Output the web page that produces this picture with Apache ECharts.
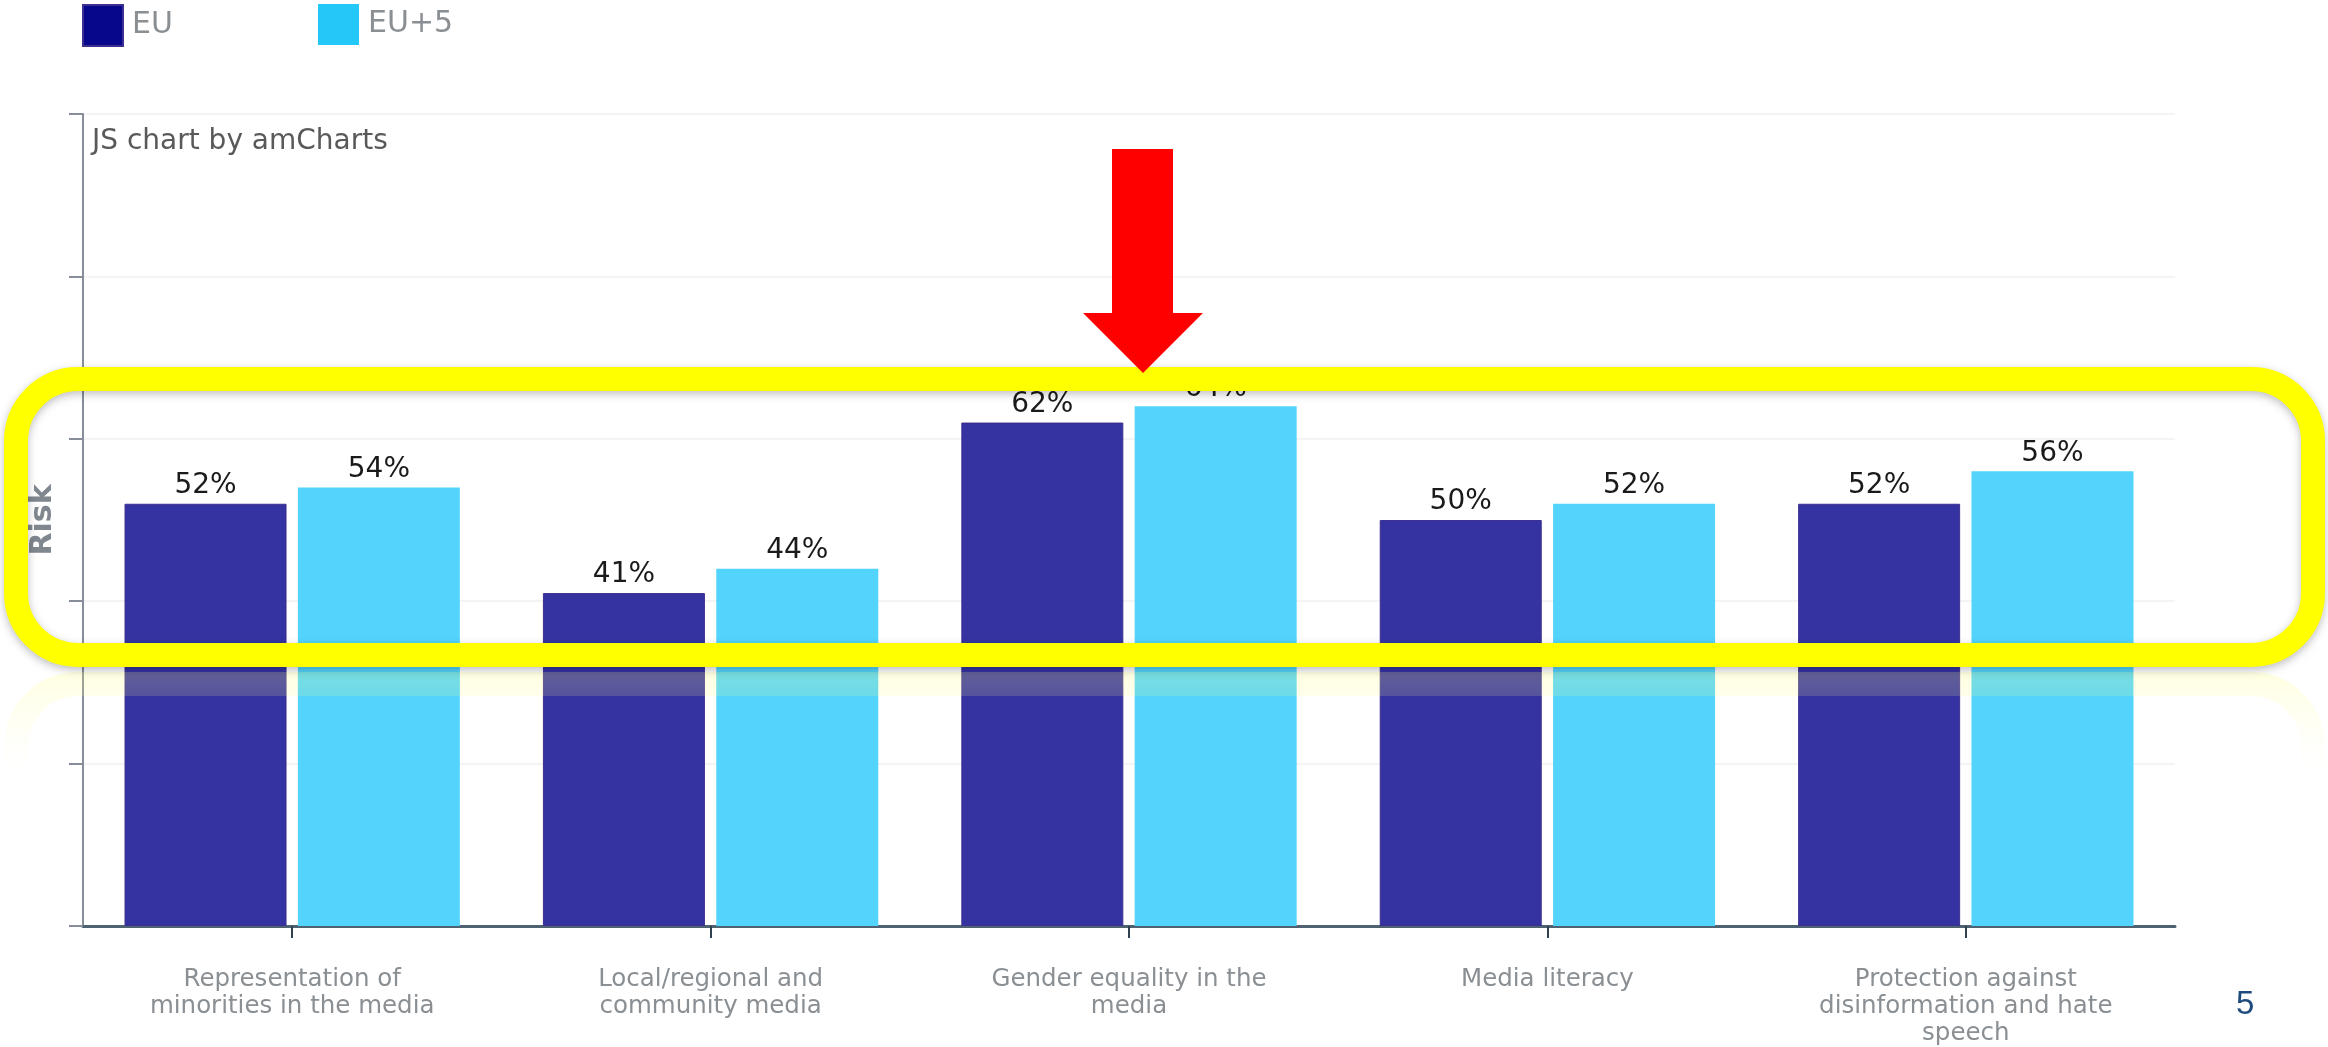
<!DOCTYPE html>
<html>
<head>
<meta charset="utf-8">
<script src="https://cdn.jsdelivr.net/npm/echarts@6/dist/echarts.min.js"></script>
<style>
html,body{margin:0;padding:0;background:#fff;}
#chart{width:2328px;height:1047px;}
</style>
</head>
<body>
<div id="chart"></div>
<script>
var categories = [
  "Representation of\nminorities in the media",
  "Local/regional and\ncommunity media",
  "Gender equality in the\nmedia",
  "Media literacy",
  "Protection against\ndisinformation and hate\nspeech"
];
var seriesNames = ["EU", "EU+5"];
var euValues = [52, 41, 62, 50, 52];
var eu5Values = [54, 44, 64, 52, 56];
var highRiskThreshold = 66;

var verdanaLike = "'DejaVu Sans', Verdana, sans-serif";

var chart = echarts.init(document.getElementById('chart'), null, {renderer: 'canvas'});

var labelCfg = {
  show: true,
  position: 'top',
  distance: 4,
  formatter: '{c}%',
  fontSize: 28,
  fontFamily: verdanaLike,
  color: '#1a1a1a'
};

var legendText = {fontSize: 30, color: '#8a8f94', fontFamily: verdanaLike, padding: [5, 0, 0, 4]};

var option = {
  backgroundColor: '#ffffff',
  animation: false,
  title: {
    text: 'JS chart by amCharts',
    left: 92,
    top: 128,
    padding: 0,
    textStyle: {fontSize: 28, fontWeight: 'normal', color: '#595959', fontFamily: verdanaLike}
  },
  legend: [
    {
      data: [{name: seriesNames[0], itemStyle: {color: '#07078c'}}],
      left: 82, top: 4, padding: 0,
      icon: 'rect', itemWidth: 40, itemHeight: 41,
      selectedMode: false,
      textStyle: legendText
    },
    {
      data: [{name: seriesNames[1], itemStyle: {color: '#24c8f8'}}],
      left: 318, top: 4, padding: 0,
      icon: 'rect', itemWidth: 41, itemHeight: 41,
      selectedMode: false,
      textStyle: legendText
    }
  ],
  grid: {left: 83, right: 153, top: 114, bottom: 117, containLabel: false},
  xAxis: {
    type: 'category',
    data: categories,
    boundaryGap: true,
    axisLine: {show: true, lineStyle: {color: '#4e6272', width: 3}},
    axisTick: {show: true, alignWithLabel: true, length: 12, lineStyle: {color: '#2f4050', width: 2}},
    axisLabel: {
      interval: 0,
      margin: 40,
      fontSize: 24.5,
      lineHeight: 27,
      color: '#8a8f94',
      fontFamily: verdanaLike,
      align: 'center'
    },
    splitLine: {show: false}
  },
  yAxis: {
    type: 'value',
    min: 0, max: 100, interval: 20,
    name: 'Risk',
    nameLocation: 'middle',
    nameGap: 25,
    nameRotate: 90,
    nameTextStyle: {fontSize: 30, fontWeight: 'bold', color: '#80878f', fontFamily: verdanaLike},
    axisLine: {show: true, lineStyle: {color: '#868f99', width: 2}},
    axisTick: {show: true, inside: false, length: 14, lineStyle: {color: '#868f99', width: 2}},
    axisLabel: {show: false},
    splitLine: {show: true, lineStyle: {color: '#f1f1f1', width: 1.5}}
  },
  series: [
    {
      name: seriesNames[0],
      type: 'bar',
      data: euValues,
      barWidth: 162,
      barGap: '7%',
      itemStyle: {color: '#3533a1', borderColor: '#3d2f8f', borderWidth: 1},
      label: labelCfg
    },
    {
      name: seriesNames[1],
      type: 'bar',
      data: eu5Values,
      barWidth: 162,
      barGap: '7%',
      itemStyle: {color: '#52d4fd'},
      label: labelCfg
    },
    {
      name: 'threshold',
      type: 'line',
      data: [],
      silent: true,
      markLine: {
        silent: true,
        symbol: 'none',
        label: {show: false},
        lineStyle: {color: '#b01e1e', width: 2, type: 'solid'},
        data: [[{coord: [0, highRiskThreshold]}, {coord: [4, highRiskThreshold]}]]
      }
    }
  ],
  graphic: [
    {
      type: 'rect',
      z: 90,
      silent: true,
      shape: {x: 16, y: 684, width: 2297, height: 260, r: 62},
      style: {
        fill: 'none',
        lineWidth: 24,
        stroke: {
          type: 'linear', x: 0, y: 0, x2: 0, y2: 1,
          colorStops: [
            {offset: 0, color: 'rgba(255,255,120,0.22)'},
            {offset: 0.25, color: 'rgba(255,255,160,0.05)'},
            {offset: 0.4, color: 'rgba(255,255,255,0)'}
          ]
        }
      }
    },
    {
      type: 'rect',
      z: 100,
      silent: true,
      shape: {x: 16, y: 379, width: 2297, height: 276, r: 62},
      style: {
        fill: 'none',
        stroke: '#ffff00',
        lineWidth: 24,
        shadowBlur: 8,
        shadowColor: 'rgba(0,0,0,0.25)',
        shadowOffsetY: 3
      }
    },
    {
      type: 'polygon',
      z: 110,
      silent: true,
      shape: {points: [[1112,149],[1173,149],[1173,313],[1203,313],[1143,373],[1083,313],[1112,313]]},
      style: {fill: '#ff0000'}
    },
    {
      type: 'text',
      z: 110,
      silent: true,
      left: 2236,
      top: 988,
      style: {text: '5', fontSize: 33, fill: '#1f4a7c', fontFamily: "'Liberation Sans', Arial, sans-serif"}
    }
  ]
};

chart.setOption(option);
</script>
</body>
</html>
